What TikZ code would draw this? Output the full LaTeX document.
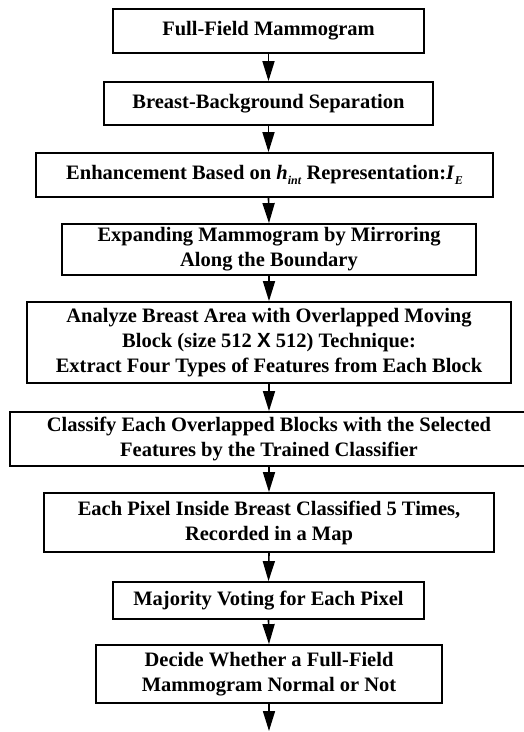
\documentclass[tikz,border=0pt]{standalone}
\usepackage{fontspec}
\setmainfont{Liberation Serif}
\newfontfamily\xfont{Liberation Sans}
\usetikzlibrary{arrows.meta}

\newcommand{\subidx}[1]{\raisebox{-0.5ex}{\fontsize{12}{12}\selectfont #1}}

\begin{document}
\begin{tikzpicture}[x=1pt, y=-1pt,
  flowbox/.style={draw, line width=1.8pt, inner sep=0pt, align=center,
    font=\fontsize{20.5}{25}\selectfont\bfseries},
  flowarrow/.style={line width=1.6pt, -{Triangle[length=20pt,width=12pt]}}]

\useasboundingbox (0,0) rectangle (524,732);

\node[flowbox, minimum width=311pt, minimum height=44pt] (mammo) at (268.5,31) {Full-Field Mammogram};
\node[flowbox, minimum width=329pt, minimum height=43pt] (separation) at (268.5,103.5) {Breast-Background Separation};
\node[flowbox, minimum width=457pt, minimum height=44pt] (enhance) at (264.5,175)
  {Enhancement Based on \textit{h}\subidx{\textit{int}} Representation:\textit{I}\subidx{\textit{E}}};
\node[flowbox, minimum width=414pt, minimum height=51pt] (expand) at (269,249.5)
  {Expanding Mammogram by Mirroring\\Along the Boundary};
\node[flowbox, minimum width=484pt, minimum height=81pt] (analyze) at (269,342.5)
  {Analyze Breast Area with Overlapped Moving\\Block (size 512 {\xfont X} 512) Technique:\\Extract Four Types of Features from Each Block};
\node[flowbox, minimum width=518pt, minimum height=54pt] (classify) at (269,439)
  {Classify Each Overlapped Blocks with the Selected\\Features by the Trained Classifier};
\node[flowbox, minimum width=450pt, minimum height=59pt] (pixel) at (269,522.5)
  {Each Pixel Inside Breast Classified 5 Times,\\Recorded in a Map};
\node[flowbox, minimum width=311pt, minimum height=37pt] (voting) at (268.5,600.5) {Majority Voting for Each Pixel};
\node[flowbox, minimum width=346pt, minimum height=58pt] (decide) at (269,674)
  {Decide Whether a Full-Field\\Mammogram Normal or Not};
\coordinate (result) at (269,731);

\begin{scope}[flowarrow]
\draw (mammo.south) -- (separation.north);
\draw (separation.south) -- (separation.south |- enhance.north);
\draw (separation.south |- enhance.south) -- (expand.north);
\draw (expand.south) -- (analyze.north);
\draw (analyze.south) -- (classify.north);
\draw (classify.south) -- (pixel.north);
\draw (pixel.south) -- (voting.north);
\draw (voting.south) -- (decide.north);
\draw (decide.south) -- (result);
\end{scope}

\end{tikzpicture}
\end{document}
